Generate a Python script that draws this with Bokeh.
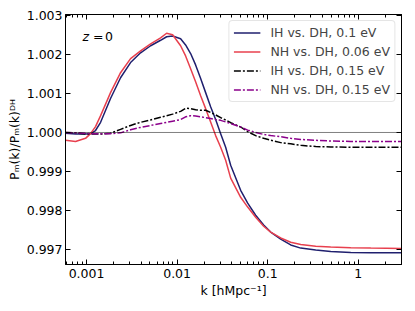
from bokeh.plotting import figure
from bokeh.models import (LinearAxis, LogAxis, FixedTicker, Range1d, Label, Legend,
                          LegendItem, Span, PrintfTickFormatter)
from bokeh.embed import file_html
from bokeh.resources import INLINE

# ---- data ----
k = [0.000586, 0.000756, 0.000975, 0.001107, 0.001257, 0.00143, 0.001841, 0.002375,
     0.003063, 0.003951, 0.0051, 0.006572, 0.007656, 0.00892, 0.01093, 0.01241,
     0.0141, 0.016, 0.01819, 0.02065, 0.02344, 0.02663, 0.03025, 0.03435, 0.03902,
     0.0503, 0.06012, 0.07362, 0.09023, 0.1079, 0.1392, 0.1795, 0.2316, 0.339,
     0.4963, 0.826, 1.374, 3.0]

ih_01 = [0.99998, 0.99996, 0.99996, 0.99997, 1.00005, 1.00026, 1.00087, 1.00140,
         1.00179, 1.00204, 1.00222, 1.00236, 1.00245, 1.00247, 1.00240, 1.00224,
         1.00202, 1.00173, 1.00138, 1.00102, 1.00066, 1.00033, 0.99997, 0.99962,
         0.99916, 0.99852, 0.99819, 0.99788, 0.99763, 0.99745, 0.99727, 0.99712,
         0.99704, 0.99699, 0.99695, 0.99693, 0.99692, 0.99692]

nh_006 = [0.99980, 0.99977, 0.99985, 0.99997, 1.00015, 1.00043, 1.00102, 1.00153,
          1.00189, 1.00209, 1.00227, 1.00242, 1.00254, 1.00250, 1.00222, 1.00196,
          1.00163, 1.00130, 1.00094, 1.00061, 1.00027, 0.99992, 0.99962, 0.99929,
          0.99883, 0.99834, 0.99809, 0.99783, 0.99760, 0.99745, 0.99730, 0.99719,
          0.99713, 0.99709, 0.99707, 0.99705, 0.99704, 0.99703]

ih_015 = [1.00000, 0.99999, 0.99996, 0.99996, 0.99996, 0.99996, 0.99998, 1.00008,
          1.00018, 1.00026, 1.00032, 1.00039, 1.00043, 1.00047, 1.00054, 1.00062,
          1.00061, 1.00058, 1.00057, 1.00057, 1.00051, 1.00045, 1.00038, 1.00032,
          1.00025, 1.00014, 1.00002, 0.99992, 0.99985, 0.99980, 0.99974, 0.99971,
          0.99967, 0.99964, 0.99963, 0.99962, 0.99962, 0.99962]

nh_015 = [1.00000, 0.99999, 0.99998, 0.99997, 0.99997, 0.99997, 0.99997, 0.99999,
          1.00007, 1.00013, 1.00018, 1.00023, 1.00026, 1.00029, 1.00033, 1.00040,
          1.00043, 1.00042, 1.00040, 1.00038, 1.00036, 1.00033, 1.00031, 1.00027,
          1.00023, 1.00014, 1.00006, 1.00000, 0.99995, 0.99992, 0.99989, 0.99985,
          0.99982, 0.99980, 0.99978, 0.99977, 0.99977, 0.99977]

labels = ["IH vs. DH, 0.1 eV", "NH vs. DH, 0.06 eV", "IH vs. DH, 0.15 eV", "NH vs. DH, 0.15 eV"]

x_major = [0.001, 0.01, 0.1, 1]
x_major_labels = ["0.001", "0.01", "0.1", "1"]
x_minor = [0.0006, 0.0007, 0.0008, 0.0009,
           0.002, 0.003, 0.004, 0.005, 0.006, 0.007, 0.008, 0.009,
           0.02, 0.03, 0.04, 0.05, 0.06, 0.07, 0.08, 0.09,
           0.2, 0.3, 0.4, 0.5, 0.6, 0.7, 0.8, 0.9, 2, 3]
y_major = [0.997, 0.998, 0.999, 1.000, 1.001, 1.002, 1.003]

x_title = "k [hMpc\u207b\u00b9]"
y_title = "P\u2098(k)/P\u2098(k)\u1d30\u1d34"

FONT = "DejaVu Sans"
FS = "12.5px"
DASHDOT = "7 2 2 2"

p = figure(width=415, height=311, x_axis_type="log",
           x_range=Range1d(0.000586, 3.0), y_range=Range1d(0.99662, 1.00302),
           output_backend="svg", toolbar_location=None,
           min_border_left=65, min_border_right=14, min_border_top=14, min_border_bottom=47)
p.grid.visible = False
p.background_fill_color = "white"
p.border_fill_color = "white"
p.outline_line_color = "black"

def style_axis(ax, show_labels=True, minor=True):
    ax.axis_line_color = "black"
    ax.axis_line_width = 1
    ax.major_tick_in = 5
    ax.major_tick_out = 0
    ax.major_tick_line_color = "black"
    if minor:
        ax.minor_tick_in = 3
        ax.minor_tick_out = 0
        ax.minor_tick_line_color = "black"
    else:
        ax.minor_tick_line_color = None
    ax.major_label_text_font = FONT
    ax.major_label_text_color = "black"
    if show_labels:
        ax.major_label_text_font_size = FS
        ax.major_label_standoff = 4
    else:
        ax.major_label_text_font_size = "1px"
        ax.major_label_text_alpha = 0
        ax.major_label_standoff = 0
    ax.axis_label_text_font = FONT
    ax.axis_label_text_font_size = FS
    ax.axis_label_text_font_style = "normal"
    ax.axis_label_text_color = "black"

xt = FixedTicker(ticks=x_major, minor_ticks=x_minor)
yt = FixedTicker(ticks=y_major)
overrides = {v: s for v, s in zip(x_major, x_major_labels)}

p.xaxis.ticker = xt
p.xaxis.major_label_overrides = overrides
style_axis(p.xaxis[0])
p.xaxis.axis_label = x_title
p.xaxis.axis_label_standoff = 2
p.yaxis.ticker = yt
p.yaxis.formatter = PrintfTickFormatter(format="%.3f")
style_axis(p.yaxis[0], minor=False)
p.yaxis.major_label_standoff = 3
p.yaxis.axis_label = y_title
p.yaxis.axis_label_standoff = 2

top = LogAxis(ticker=FixedTicker(ticks=x_major, minor_ticks=x_minor))
style_axis(top, show_labels=False)
p.add_layout(top, "above")
right = LinearAxis(ticker=FixedTicker(ticks=y_major))
style_axis(right, show_labels=False, minor=False)
p.add_layout(right, "right")

p.add_layout(Span(location=1.0, dimension="width", line_color="black",
                  line_width=1, line_dash="1 1"))

r1 = p.line(k, ih_01, line_color="#1f1f6e", line_width=1.5)
r2 = p.line(k, nh_006, line_color="#e8404e", line_width=1.5)
r3 = p.line(k, ih_015, line_color="black", line_width=1.5, line_dash=DASHDOT)
r4 = p.line(k, nh_015, line_color="#8b008b", line_width=1.5, line_dash=DASHDOT)

legend = Legend(items=[LegendItem(label=l, renderers=[r]) for l, r in zip(labels, [r1, r2, r3, r4])],
                location="top_right", margin=6, padding=4, spacing=4,
                glyph_width=27, glyph_height=15, label_height=15, label_standoff=10,
                label_text_font=FONT, label_text_font_size=FS,
                border_line_color="#cccccc", border_line_width=1,
                background_fill_color="white", background_fill_alpha=0.8)
try:
    legend.border_radius = 4
except Exception:
    pass
p.add_layout(legend)

def lab(text, x, y, italic=False):
    p.add_layout(Label(x=x, y=y, x_units="screen", y_units="screen", text=text,
                       text_font=FONT, text_font_size=FS,
                       text_font_style="italic" if italic else "normal",
                       text_color="black", text_align="left", text_baseline="alphabetic"))

# z = 0
lab("z", 17, 228, italic=True)
lab("=", 27.5, 228)
lab("0", 39.5, 228)

open("out.html", "w").write(file_html(p, INLINE))
